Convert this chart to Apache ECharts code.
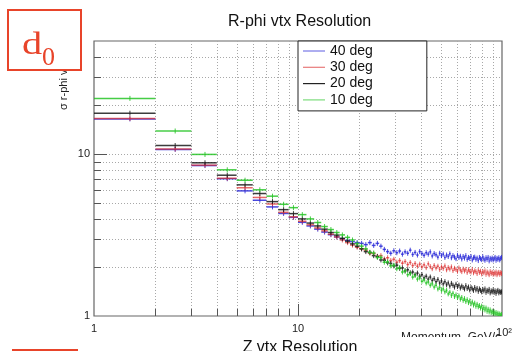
<!DOCTYPE html>
<html>
<head>
<meta charset="utf-8">
<script src="https://cdn.jsdelivr.net/npm/echarts@6/dist/echarts.min.js"></script>
<style>
  html, body { margin: 0; padding: 0; background: #fff; }
  #chart { width: 518px; height: 351px; }
</style>
</head>
<body>
<div id="chart"></div>
<script>
// Momentum bin edges (GeV/c), 1 GeV/c wide bins from 1 to 100
const binEdges = [
  1, 2, 3, 4, 5, 6, 7, 8, 9, 10,
  11, 12, 13, 14, 15, 16, 17, 18, 19, 20,
  21, 22, 23, 24, 25, 26, 27, 28, 29, 30,
  31, 32, 33, 34, 35, 36, 37, 38, 39, 40,
  41, 42, 43, 44, 45, 46, 47, 48, 49, 50,
  51, 52, 53, 54, 55, 56, 57, 58, 59, 60,
  61, 62, 63, 64, 65, 66, 67, 68, 69, 70,
  71, 72, 73, 74, 75, 76, 77, 78, 79, 80,
  81, 82, 83, 84, 85, 86, 87, 88, 89, 90,
  91, 92, 93, 94, 95, 96, 97, 98, 99, 100
];

// R-phi vertex resolution per momentum bin, one list per polar angle
const res40deg = [
  16.5, 10.7, 8.5, 7.05, 5.93, 5.19, 4.72, 4.3, 4.07, 3.79,
  3.6, 3.44, 3.3, 3.18, 3.08, 3.0, 2.93, 2.88, 2.84, 2.81,
  2.76, 2.84, 2.73, 2.81, 2.7, 2.58, 2.5, 2.44, 2.53, 2.46,
  2.52, 2.41, 2.49, 2.44, 2.55, 2.4, 2.47, 2.38, 2.5, 2.43,
  2.37, 2.46, 2.41, 2.49, 2.35, 2.43, 2.39, 2.31, 2.44, 2.36,
  2.41, 2.3, 2.38, 2.33, 2.42, 2.29, 2.36, 2.31, 2.26, 2.37,
  2.3, 2.34, 2.25, 2.33, 2.28, 2.36, 2.24, 2.3, 2.27, 2.33,
  2.22, 2.29, 2.31, 2.24, 2.28, 2.2, 2.3, 2.26, 2.23, 2.32,
  2.25, 2.21, 2.29, 2.24, 2.3, 2.19, 2.27, 2.23, 2.28, 2.22,
  2.26, 2.3, 2.21, 2.27, 2.24, 2.29, 2.22, 2.27, 2.3
];
const res30deg = [
  16.6, 10.75, 8.55, 7.1, 6.2, 5.4, 4.92, 4.37, 4.1, 3.85,
  3.66, 3.5, 3.36, 3.2, 3.08, 2.95, 2.84, 2.74, 2.66, 2.6,
  2.55, 2.44, 2.43, 2.34, 2.36, 2.25, 2.29, 2.2, 2.24, 2.15,
  2.2, 2.12, 2.17, 2.08, 2.14, 2.05, 2.11, 2.03, 2.09, 2.01,
  2.07, 1.99, 2.1, 2.02, 1.96, 2.05, 1.98, 2.03, 1.94, 2.01,
  1.97, 2.04, 1.93, 1.99, 1.95, 2.01, 1.91, 1.97, 1.94, 1.89,
  1.98, 1.92, 1.88, 1.95, 1.9, 1.94, 1.86, 1.93, 1.89, 1.87,
  1.94, 1.85, 1.9, 1.88, 1.83, 1.92, 1.86, 1.89, 1.82, 1.88,
  1.85, 1.9, 1.81, 1.87, 1.84, 1.8, 1.88, 1.83, 1.86, 1.81,
  1.85, 1.82, 1.87, 1.8, 1.84, 1.86, 1.81, 1.85, 1.83
];
const res20deg = [
  17.9, 11.3, 8.84, 7.41, 6.46, 5.71, 5.09, 4.54, 4.29, 3.98,
  3.75, 3.6, 3.44, 3.28, 3.16, 3.02, 2.9, 2.79, 2.7, 2.6,
  2.5, 2.47, 2.36, 2.33, 2.22, 2.21, 2.13, 2.11, 2.04, 2.06,
  1.97, 1.98, 1.9, 1.93, 1.85, 1.87, 1.8, 1.84, 1.76, 1.8,
  1.72, 1.76, 1.69, 1.74, 1.66, 1.7, 1.63, 1.68, 1.6, 1.65,
  1.58, 1.63, 1.56, 1.6, 1.53, 1.59, 1.55, 1.51, 1.57, 1.52,
  1.55, 1.49, 1.53, 1.5, 1.47, 1.54, 1.48, 1.51, 1.45, 1.5,
  1.47, 1.44, 1.5, 1.45, 1.48, 1.42, 1.47, 1.44, 1.41, 1.46,
  1.43, 1.47, 1.4, 1.44, 1.42, 1.46, 1.39, 1.43, 1.41, 1.45,
  1.4, 1.43, 1.38, 1.42, 1.44, 1.39, 1.42, 1.4, 1.41
];
const res10deg = [
  22.1, 13.9, 9.96, 8.0, 6.9, 6.02, 5.5, 4.9, 4.67, 4.23,
  3.98, 3.78, 3.57, 3.42, 3.28, 3.17, 3.06, 2.95, 2.8, 2.7,
  2.6, 2.47, 2.45, 2.3, 2.3, 2.15, 2.16, 2.04, 2.06, 1.96,
  1.99, 1.87, 1.9, 1.8, 1.83, 1.74, 1.78, 1.69, 1.72, 1.64,
  1.67, 1.6, 1.62, 1.55, 1.58, 1.51, 1.55, 1.47, 1.5, 1.44,
  1.47, 1.41, 1.44, 1.37, 1.4, 1.34, 1.38, 1.32, 1.35, 1.3,
  1.33, 1.27, 1.3, 1.25, 1.28, 1.23, 1.26, 1.21, 1.24, 1.19,
  1.22, 1.17, 1.2, 1.15, 1.18, 1.14, 1.16, 1.12, 1.15, 1.1,
  1.13, 1.09, 1.12, 1.07, 1.1, 1.06, 1.09, 1.05, 1.07, 1.04,
  1.06, 1.03, 1.05, 1.02, 1.04, 1.01, 1.03, 1.01, 1.02
];

const seriesNames = ['40 deg', '30 deg', '20 deg', '10 deg'];

// Axis ranges and tick / grid positions
const xRange = [1, 100];
const yRange = [1, 50];
const xMajorGrid = [10];
const xMinorGrid = [2, 3, 4, 5, 6, 7, 8, 9, 20, 30, 40, 50, 60, 70, 80, 90];
const yMajorGrid = [10];
const yMinorGrid = [2, 3, 4, 5, 6, 7, 8, 9, 20, 30, 40];
const xTickLabels = { 1: '1', 10: '10', 100: '{hi|10²}' };
const yTickLabels = { 1: '1', 10: '10' };

const FONT = '"Liberation Sans", Arial, Helvetica, sans-serif';
const SERIF = '"Liberation Serif", "DejaVu Serif", serif';
const colors = ['#2a2ad8', '#dd2b2b', '#1a1a1a', '#26c426'];
const legendColors = ['#7777e6', '#e87a7a', '#222222', '#7bdc7b'];
const lineOpacity = [0.85, 0.7, 0.85, 0.85];

function histData(vals) {
  return vals.map((v, i) => [binEdges[i], binEdges[i + 1], v]);
}

// One bin: horizontal segment across the bin plus a short vertical error tick
function makeBinRenderer(opacity) {
  return function (params, api) {
    const lo = api.value(0), hi = api.value(1), v = api.value(2);
    const a = api.coord([lo, v]);
    const b = api.coord([hi, v]);
    const c = api.coord([(lo + hi) / 2, v]);
    const color = api.visual('color');
    return {
      type: 'group',
      children: [
        { type: 'line', shape: { x1: a[0], y1: a[1], x2: b[0], y2: b[1] },
          style: { stroke: color, lineWidth: 1.5, opacity: opacity } },
        { type: 'line', shape: { x1: c[0], y1: c[1] - 2.5, x2: c[0], y2: c[1] + 2.5 },
          style: { stroke: color, lineWidth: 1, opacity: opacity } }
      ]
    };
  };
}

// Dotted grid line plus an inward tick on the axis
function makeXGridRenderer(tickLen) {
  return function (params, api) {
    const cs = params.coordSys;
    const x = Math.round(api.coord([api.value(0), 1])[0]) + 0.5;
    const bottom = cs.y + cs.height;
    return {
      type: 'group',
      children: [
        { type: 'line', shape: { x1: x, y1: cs.y, x2: x, y2: bottom },
          style: { stroke: '#a8a8a8', lineWidth: 1, lineDash: [1, 2] } },
        { type: 'line', shape: { x1: x, y1: bottom, x2: x, y2: bottom - tickLen },
          style: { stroke: '#555', lineWidth: 1 } }
      ]
    };
  };
}
function makeYGridRenderer(tickLen) {
  return function (params, api) {
    const cs = params.coordSys;
    const y = Math.round(api.coord([1, api.value(1)])[1]) + 0.5;
    return {
      type: 'group',
      children: [
        { type: 'line', shape: { x1: cs.x, y1: y, x2: cs.x + cs.width, y2: y },
          style: { stroke: '#a8a8a8', lineWidth: 1, lineDash: [1, 2] } },
        { type: 'line', shape: { x1: cs.x, y1: y, x2: cs.x + tickLen, y2: y },
          style: { stroke: '#555', lineWidth: 1 } }
      ]
    };
  };
}

const gridSeries = [
  { data: xMajorGrid.map(v => [v, 1]), renderItem: makeXGridRenderer(12) },
  { data: xMinorGrid.map(v => [v, 1]), renderItem: makeXGridRenderer(7) },
  { data: yMajorGrid.map(v => [1, v]), renderItem: makeYGridRenderer(13) },
  { data: yMinorGrid.map(v => [1, v]), renderItem: makeYGridRenderer(7) }
].map(s => Object.assign({
  type: 'custom', coordinateSystem: 'cartesian2d', silent: true, z: 1,
  encode: { x: 0, y: 1 }
}, s));

const dataLists = [res40deg, res30deg, res20deg, res10deg];
const histSeries = dataLists.map((vals, i) => ({
  name: seriesNames[i],
  type: 'custom',
  coordinateSystem: 'cartesian2d',
  clip: true,
  z: 3 + i,
  itemStyle: { color: colors[i] },
  encode: { x: [0, 1], y: 2 },
  renderItem: makeBinRenderer(lineOpacity[i]),
  data: histData(vals)
}));

const chart = echarts.init(document.getElementById('chart'), null, { renderer: 'canvas' });

chart.setOption({
  animation: false,
  backgroundColor: '#ffffff',
  title: {
    text: 'R-phi vtx Resolution',
    left: 223,
    top: 9,
    textStyle: { fontFamily: FONT, fontSize: 16, fontWeight: 'normal', color: '#111' }
  },
  grid: {
    left: 94, right: 16, top: 41, bottom: 35,
    show: true, borderColor: '#666', borderWidth: 1.2, backgroundColor: 'transparent'
  },
  xAxis: {
    type: 'log', logBase: 10, min: xRange[0], max: xRange[1],
    axisLine: { show: false }, axisTick: { show: false },
    splitLine: { show: false }, minorSplitLine: { show: false },
    axisLabel: {
      margin: 7, fontFamily: FONT, fontSize: 11, color: '#222',
      showMinLabel: true, showMaxLabel: true,
      formatter: v => xTickLabels[Math.round(v)] || '',
      rich: { hi: { fontFamily: FONT, fontSize: 11, color: '#222', padding: [4, 0, 0, 4] } }
    }
  },
  yAxis: {
    type: 'log', logBase: 10, min: yRange[0], max: yRange[1],
    axisLine: { show: false }, axisTick: { show: false },
    splitLine: { show: false }, minorSplitLine: { show: false },
    axisLabel: {
      margin: 4, fontFamily: FONT, fontSize: 11, color: '#222',
      showMaxLabel: false,
      formatter: v => yTickLabels[Math.round(v)] || ''
    }
  },
  legend: {
    orient: 'vertical',
    left: 298, top: 41,
    padding: [3, 54, 4, 5],
    itemGap: 2.3,
    itemWidth: 22, itemHeight: 1.2,
    icon: 'rect',
    backgroundColor: '#ffffff',
    borderColor: '#222', borderWidth: 1,
    textStyle: { fontFamily: FONT, fontSize: 14, color: '#111', lineHeight: 14 },
    data: seriesNames.map((n, i) => ({ name: n, itemStyle: { color: legendColors[i] } })),
    z: 20
  },
  graphic: [
    // y axis title (partly covered by the label box)
    { type: 'text', x: 69, y: 110, rotation: Math.PI / 2, z: 40,
      style: { text: 'σ r-phi vtx [μm]', font: '11px ' + FONT, fill: '#222',
               align: 'left', verticalAlign: 'bottom' } },
    // x axis title
    { type: 'text', x: 501, y: 332, z: 40,
      style: { text: 'Momentum  GeV/c', font: '12px ' + FONT, fill: '#222',
               align: 'right', verticalAlign: 'top' } },
    // next panel starts below
    { type: 'rect', shape: { x: 0, y: 337, width: 518, height: 14 }, z: 50,
      style: { fill: '#ffffff' } },
    { type: 'text', x: 300, y: 340, z: 60,
      style: { text: 'Z vtx Resolution', font: '16px ' + FONT, fill: '#111',
               align: 'center', verticalAlign: 'top' } },
    { type: 'line', shape: { x1: 12, y1: 350, x2: 78, y2: 350 }, z: 60,
      style: { stroke: '#e8442a', lineWidth: 2 } },
    // d0 label box
    { type: 'rect', shape: { x: 8, y: 10, width: 73, height: 60 }, z: 70,
      style: { fill: '#ffffff', stroke: '#e8442a', lineWidth: 2 } },
    { type: 'text', x: 22, y: 30, scaleX: 1.3, z: 71,
      style: { text: 'd', font: '31px ' + SERIF, fill: '#e8442a',
               align: 'left', verticalAlign: 'top' } },
    { type: 'text', x: 42, y: 45, z: 71,
      style: { text: '0', font: '26px ' + SERIF, fill: '#e8442a',
               align: 'left', verticalAlign: 'top' } }
  ],
  series: gridSeries.concat(histSeries)
});
</script>
</body>
</html>
